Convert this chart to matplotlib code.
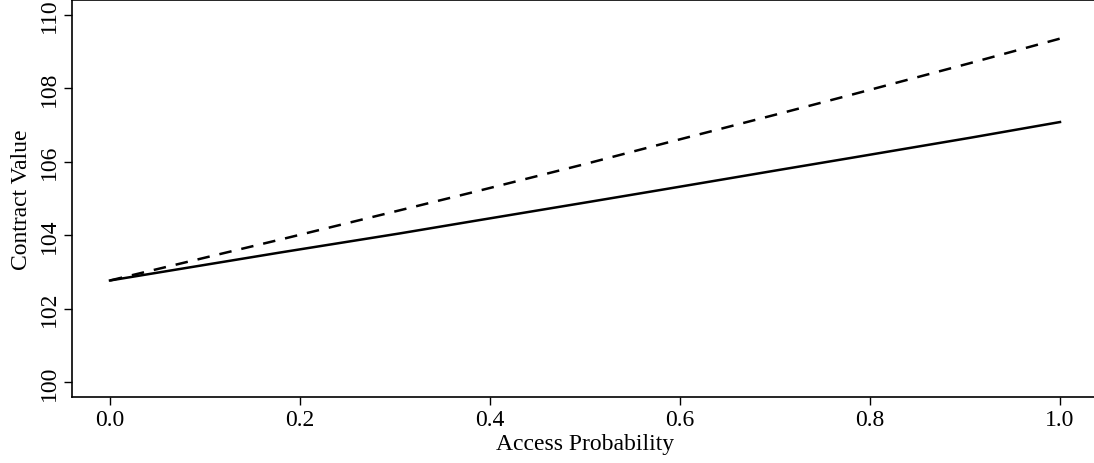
import matplotlib
matplotlib.use("Agg")
import matplotlib.pyplot as plt

plt.rcParams['font.family'] = ['Liberation Serif', 'DejaVu Serif']

# values
x_solid = [0.0, 0.179, 0.305, 0.379, 0.505, 0.579, 0.705, 0.779, 0.905, 1.0]
y_solid = [102.77, 103.53, 104.05, 104.37, 104.91, 105.23, 105.78, 106.10, 106.65, 107.08]
x_dashed = [0.0, 0.182, 0.302, 0.382, 0.502, 0.582, 0.705, 0.783, 0.905, 1.0]
y_dashed = [102.77, 103.90, 104.66, 105.17, 105.95, 106.49, 107.31, 107.84, 108.68, 109.35]

x_ticks = [0.0, 0.2, 0.4, 0.6, 0.8, 1.0]
y_ticks = [100, 102, 104, 106, 108, 110]

fig = plt.figure(figsize=(10.94, 4.64), dpi=100)
ax = fig.add_axes([72 / 1094, 66 / 464, 1026 / 1094, 397 / 464])

ax.plot(x_dashed, y_dashed, color='black', lw=1.8, linestyle=(0, (5, 4)))
ax.plot(x_solid, y_solid, color='black', lw=1.8)

ax.set_xlim(-0.04, 1.04)
ax.set_ylim(99.6, 110.4)
ax.set_xticks(x_ticks)
ax.set_xticklabels([f"{v:.1f}" for v in x_ticks])
ax.set_yticks(y_ticks)
ax.set_yticklabels([str(v) for v in y_ticks], rotation=90, va='center')

ax.tick_params(direction='out', length=6, width=1, labelsize=17, pad=3)
ax.tick_params(axis='y', pad=3)
ax.spines['right'].set_visible(False)
for s in ax.spines.values():
    s.set_linewidth(1.2)

ax.set_xlabel("Access Probability", fontsize=17, labelpad=2)
ax.set_ylabel("Contract Value", fontsize=17, labelpad=5)

fig.savefig("out.png", dpi=100)
